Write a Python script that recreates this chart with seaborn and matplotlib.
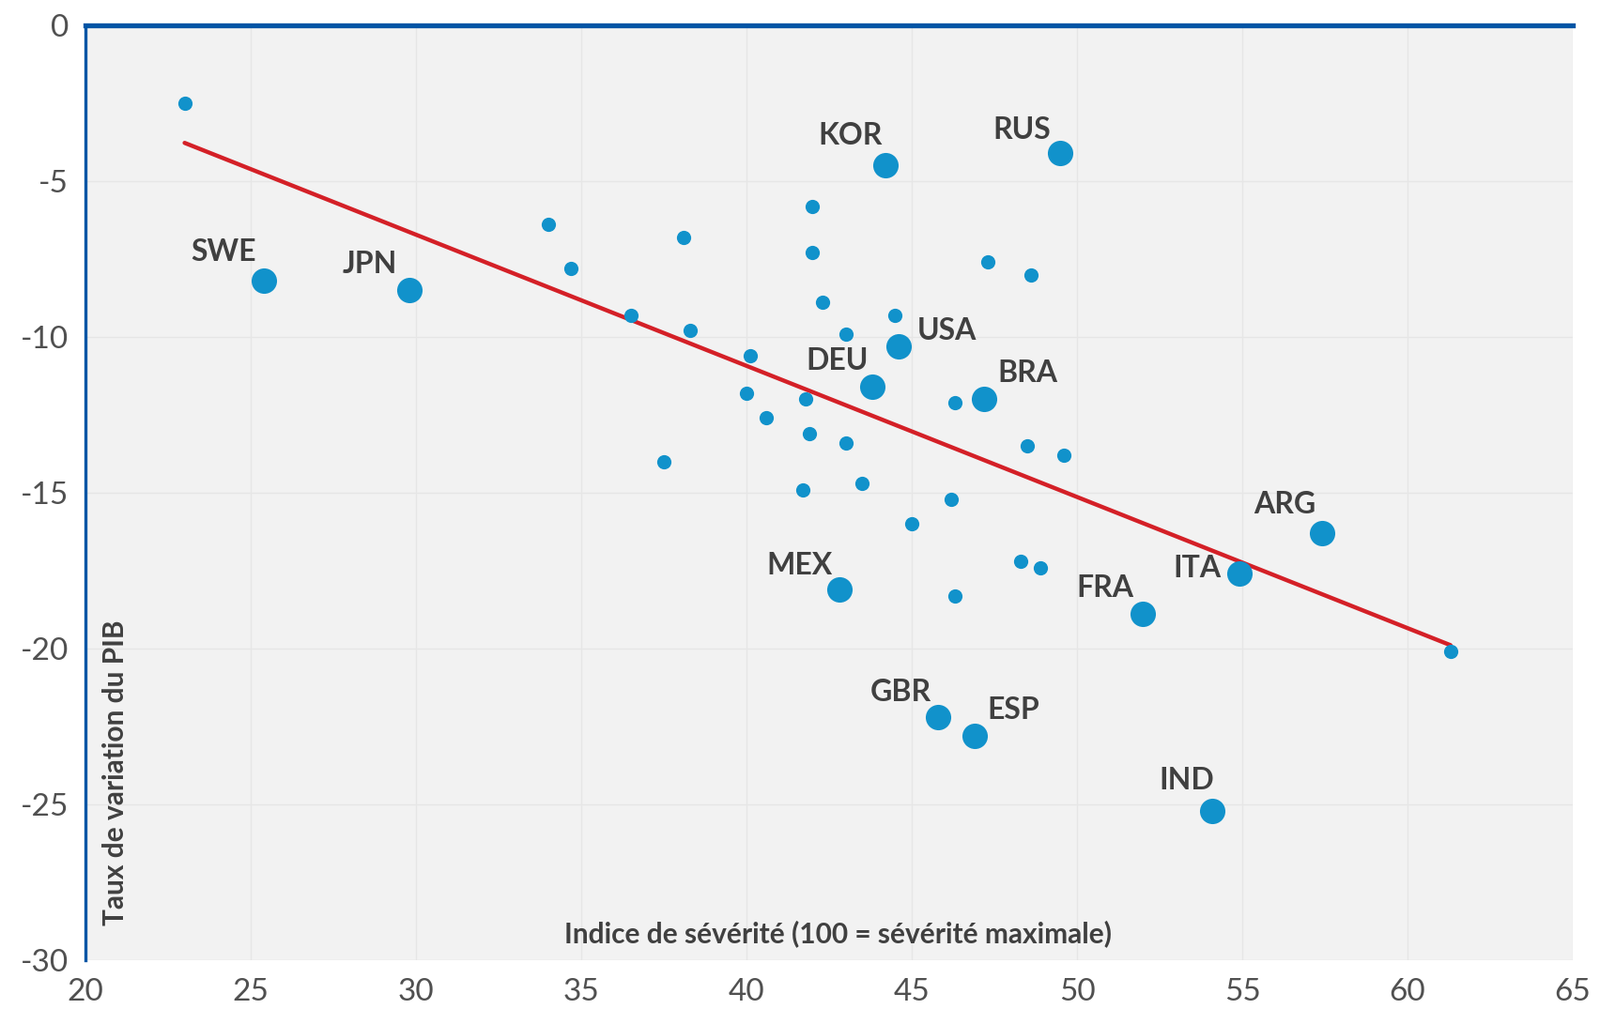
import pandas as pd
import seaborn as sns
import matplotlib.pyplot as plt

# pays du G20 (points étiquetés)
pays = ["SWE", "JPN", "KOR", "RUS", "USA", "DEU", "BRA", "ARG", "ITA", "FRA", "MEX", "GBR", "ESP", "IND"]
severite_g20 = [25.4, 29.8, 44.2, 49.5, 44.6, 43.8, 47.2, 57.4, 54.9, 52.0, 42.8, 45.8, 46.9, 54.1]
pib_g20 = [-8.2, -8.5, -4.5, -4.1, -10.3, -11.6, -12.0, -16.3, -17.6, -18.9, -18.1, -22.2, -22.8, -25.2]

# autres pays (non étiquetés)
severite_autres = [23.0, 34.0, 34.7, 38.1, 36.5, 38.3, 40.1, 40.0, 40.6, 41.8, 41.9, 37.5,
                   42.0, 42.0, 42.3, 43.0, 44.5, 43.0, 43.5, 41.7, 45.0, 46.2, 46.3, 47.3,
                   48.6, 48.5, 49.6, 48.3, 48.9, 46.3, 61.3]
pib_autres = [-2.5, -6.4, -7.8, -6.8, -9.3, -9.8, -10.6, -11.8, -12.6, -12.0, -13.1, -14.0,
              -5.8, -7.3, -8.9, -9.9, -9.3, -13.4, -14.7, -14.9, -16.0, -15.2, -12.1, -7.6,
              -8.0, -13.5, -13.8, -17.2, -17.4, -18.3, -20.1]

g20 = pd.DataFrame({"severite": severite_g20, "pib": pib_g20, "pays": pays})
autres = pd.DataFrame({"severite": severite_autres, "pib": pib_autres})
tous = pd.concat([g20[["severite", "pib"]], autres], ignore_index=True)

# décalage des étiquettes (en points)
decalages = {
    "SWE": (-31, 22), "JPN": (-30, 20), "KOR": (-27, 23), "RUS": (-30, 18),
    "USA": (37, 12), "DEU": (-27, 20), "BRA": (33, 20), "ARG": (-28, 22),
    "ITA": (-32, 4), "FRA": (-29, 20), "MEX": (-30, 18), "GBR": (-29, 19),
    "ESP": (30, 20), "IND": (-20, 23),
}

bleu = "#1192CB"
rouge = "#D42027"
gris_texte = "#404040"

sns.set_style("white")
plt.rcParams["font.family"] = ["Lato", "DejaVu Sans"]
plt.rcParams["axes.unicode_minus"] = False

fig = plt.figure(figsize=(17.04, 10.75), dpi=100)
ax = fig.add_axes([0.0534, 0.0484, 0.9296, 0.9265])
ax.set_facecolor("#F2F2F2")

sns.scatterplot(data=autres, x="severite", y="pib", color=bleu, s=120, linewidth=0, ax=ax, zorder=3)
sns.scatterplot(data=g20, x="severite", y="pib", color=bleu, s=380, linewidth=0, ax=ax, zorder=3)
sns.regplot(data=tous, x="severite", y="pib", scatter=False, ci=None, truncate=True,
            line_kws={"color": rouge, "linewidth": 3.2}, ax=ax)

for _, ligne in g20.iterrows():
    dx, dy = decalages[ligne["pays"]]
    ax.annotate(ligne["pays"], (ligne["severite"], ligne["pib"]), xytext=(dx, dy),
                textcoords="offset points", ha="center", va="center",
                fontsize=23, fontweight="bold", color=gris_texte, zorder=4)

ax.set_xlim(20, 65)
ax.set_ylim(-30, 0)
ax.set_xticks(range(20, 66, 5))
ax.set_yticks(range(-30, 1, 5))
ax.grid(True, color="#E6E6E6", linewidth=1)
ax.set_axisbelow(True)

for cote in ["right", "bottom"]:
    ax.spines[cote].set_visible(False)
ax.spines["left"].set_color("#0055A5")
ax.spines["left"].set_linewidth(2.4)
ax.spines["top"].set_color("#0055A5")
ax.spines["top"].set_linewidth(3.8)

ax.tick_params(axis="both", colors="#808080", length=7, width=1.5, labelsize=24,
               labelcolor="#505050")
ax.tick_params(axis="x", pad=7)
ax.tick_params(axis="y", pad=6)

ax.set_xlabel("")
ax.set_ylabel("")
ax.text(0.506, 0.028, "Indice de sévérité (100 = sévérité maximale)", transform=ax.transAxes,
        ha="center", va="center", fontsize=21.5, fontweight="bold", color=gris_texte)
ax.text(0.020, 0.037, "Taux de variation du PIB", transform=ax.transAxes, rotation=90,
        ha="center", va="bottom", fontsize=21.5, fontweight="bold", color=gris_texte)

fig.savefig("out.png", dpi=100)
